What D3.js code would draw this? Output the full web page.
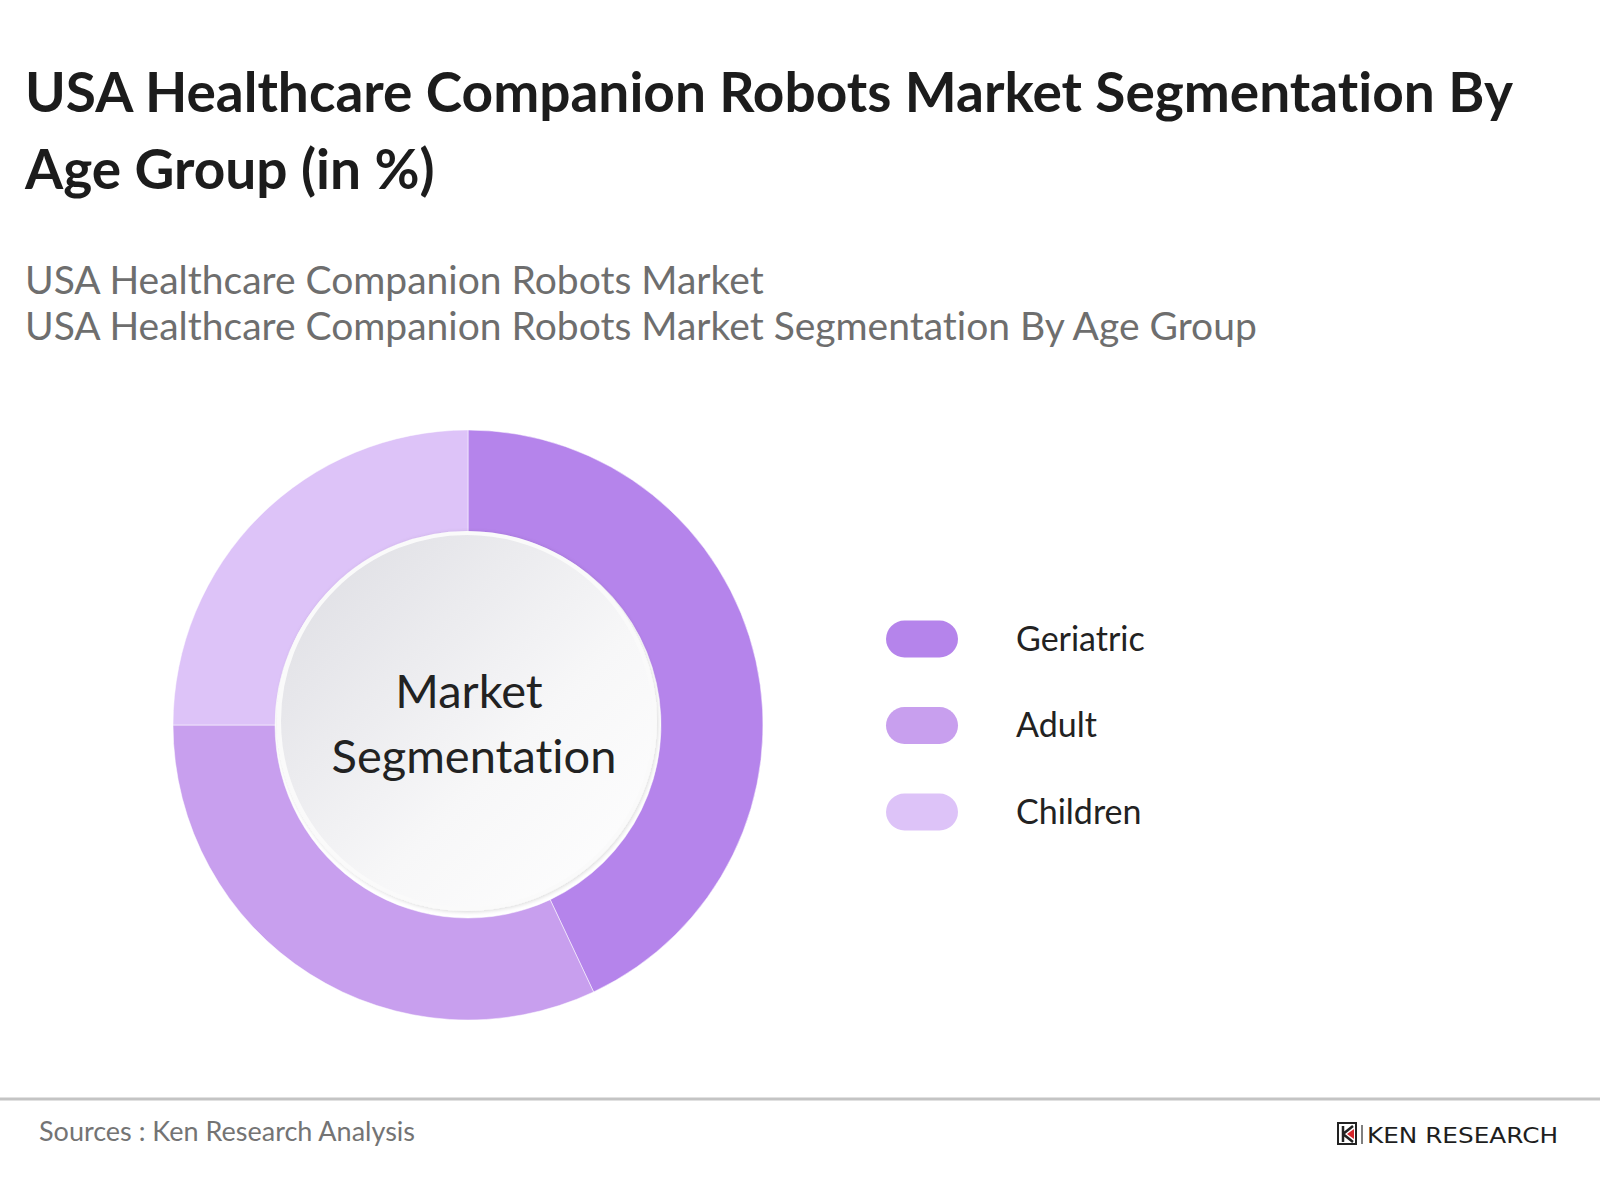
<!DOCTYPE html>
<html>
<head>
<meta charset="utf-8">
<script src="https://cdn.jsdelivr.net/npm/d3@7"></script>
<style>
  body { margin: 0; background: #fff; }
  svg { display: block; font-family: Lato, "Open Sans", sans-serif; }
  svg text, svg tspan { font-variant-ligatures: none; font-feature-settings: "liga" 0, "clig" 0; }
</style>
</head>
<body>
<div id="chart"></div>
<script>
const categories = ["Geriatric", "Adult", "Children"];
const shares = [43, 32, 25];
const colors = ["#b584eb", "#c89fee", "#ddc3f8"];

const W = 1600, H = 1200;
const cx = 468, cy = 725, outerR = 295, innerR = 193;

const svg = d3.select("#chart").append("svg")
    .attr("width", W)
    .attr("height", H);

// title
const title = svg.append("text")
    .attr("x", 25)
    .attr("y", 112)
    .style("font-size", "55px")
    .style("font-weight", "bold")
    .style("fill", "#1c1c1c");
title.append("tspan").attr("x", 25).text("USA Healthcare Companion Robots Market Segmentation By");
title.append("tspan").attr("x", 25).attr("dy", 77).text("Age Group (in %)");

const sub = svg.append("text")
    .attr("x", 25)
    .attr("y", 294)
    .style("font-size", "39px")
    .style("fill", "#6e6e6e");
sub.append("tspan").attr("x", 25).text("USA Healthcare Companion Robots Market");
sub.append("tspan").attr("x", 25).attr("dy", 46).text("USA Healthcare Companion Robots Market Segmentation By Age Group");

// donut
const pie = d3.pie().sort(null).value(d => d.value);
const arc = d3.arc().innerRadius(innerR).outerRadius(outerR);
const data = categories.map((c, i) => ({ name: c, value: shares[i], color: colors[i] }));

const g = svg.append("g").attr("transform", `translate(${cx},${cy})`);
g.selectAll("path")
    .data(pie(data))
    .join("path")
    .attr("d", arc)
    .attr("fill", d => d.data.color)
    .attr("stroke", "#fff")
    .attr("stroke-opacity", 0.5)
    .attr("stroke-width", 1);

// center disc
const defs = svg.append("defs");
const grad = defs.append("linearGradient")
    .attr("id", "disc")
    .attr("x1", "0%").attr("y1", "0%")
    .attr("x2", "100%").attr("y2", "100%");
grad.append("stop").attr("offset", "0%").attr("stop-color", "#dcdce2");
grad.append("stop").attr("offset", "60%").attr("stop-color", "#f7f7f8");
grad.append("stop").attr("offset", "100%").attr("stop-color", "#ffffff");

const shadow = defs.append("filter").attr("id", "shadow")
    .attr("x", "-10%").attr("y", "-10%").attr("width", "120%").attr("height", "120%");
shadow.append("feDropShadow")
    .attr("dx", 1).attr("dy", 1).attr("stdDeviation", 2)
    .attr("flood-color", "#000").attr("flood-opacity", 0.15);

g.append("circle")
    .attr("cx", -1)
    .attr("cy", -4)
    .attr("r", 188)
    .attr("fill", "url(#disc)")
    .attr("stroke", "#fafafa")
    .attr("stroke-width", 4)
    .attr("filter", "url(#shadow)");

const center = g.append("text")
    .attr("text-anchor", "middle")
    .style("font-size", "47px")
    .style("fill", "#222");
center.append("tspan").attr("x", 1).attr("y", -17).text("Market");
center.append("tspan").attr("x", 6).attr("y", 48).text("Segmentation");

// legend
const y = d3.scalePoint().domain(categories).range([639, 812]);
const legend = svg.append("g");
const rows = legend.selectAll("g")
    .data(data)
    .join("g")
    .attr("transform", d => `translate(0,${y(d.name)})`);
rows.append("rect")
    .attr("x", 886)
    .attr("y", -18.5)
    .attr("width", 72)
    .attr("height", 37)
    .attr("rx", 18.5)
    .attr("fill", d => d.color);
rows.append("text")
    .attr("x", 1016)
    .attr("dy", "0.35em")
    .style("font-size", "34px")
    .style("fill", "#222")
    .text(d => d.name);

// footer
svg.append("line")
    .attr("x1", 0).attr("x2", W)
    .attr("y1", 1099).attr("y2", 1099)
    .attr("stroke", "#c4c4c4")
    .attr("stroke-width", 3);

svg.append("text")
    .attr("x", 39)
    .attr("y", 1141)
    .style("font-size", "27px")
    .style("fill", "#747474")
    .text("Sources : Ken Research Analysis");

const logo = svg.append("g").attr("transform", "translate(1337,1122)");
logo.append("rect")
    .attr("x", 1).attr("y", 1).attr("width", 18).attr("height", 21)
    .attr("fill", "none").attr("stroke", "#222").attr("stroke-width", 2);
logo.append("path")
    .attr("d", "M6,4 L6,20 M6,12 L16,4 M6,12 L16,20")
    .attr("fill", "none").attr("stroke", "#222").attr("stroke-width", 2.5);
logo.append("path")
    .attr("d", "M10,12 L17,7 L17,17 Z")
    .attr("fill", "#d7262c");
logo.append("line")
    .attr("x1", 25).attr("x2", 25).attr("y1", 3).attr("y2", 22)
    .attr("stroke", "#555").attr("stroke-width", 1.5);
logo.append("text")
    .attr("x", 30)
    .attr("y", 21)
    .style("font-family", "'DejaVu Sans', sans-serif")
    .style("font-size", "22px")
    .style("fill", "#1e1e1e")
    .attr("textLength", 191)
    .attr("lengthAdjust", "spacingAndGlyphs")
    .text("KEN RESEARCH");
</script>
</body>
</html>
